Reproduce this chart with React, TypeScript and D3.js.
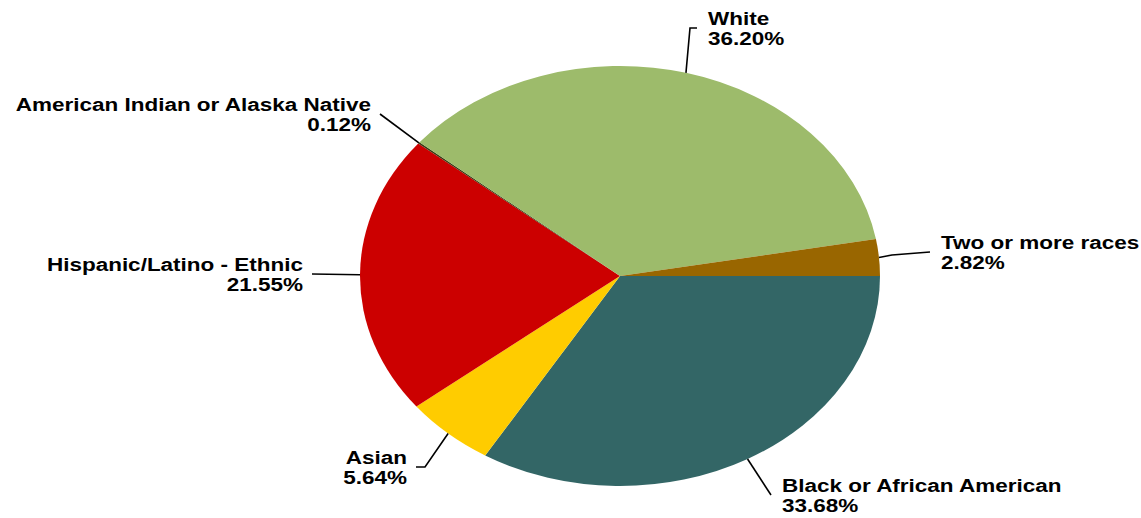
import React from "react";
import * as d3 from "d3";

const categories = [
  "Black or African American",
  "Asian",
  "Hispanic/Latino - Ethnic",
  "American Indian or Alaska Native",
  "White",
  "Two or more races",
];
const values = [33.68, 5.64, 21.55, 0.12, 36.2, 2.82];
const valueLabels = ["33.68%", "5.64%", "21.55%", "0.12%", "36.20%", "2.82%"];
const colors = ["#336666", "#FFCC00", "#CC0000", "#3a3a10", "#9DBB6B", "#996600"];

// leader line layout: points after the anchor on the pie edge, and label side
const leaderPoints: [number, number][][] = [
  [[771, 495]],
  [[425, 467], [416, 467]],
  [[312, 274]],
  [[380, 114]],
  [[690, 28], [697, 28]],
  [[892, 255], [930, 252]],
];
const labelSide = ["right", "left", "left", "left", "right", "right"];

const W = 1141;
const H = 518;
const cx = 620;
const cy = 276;
const rx = 260;
const ry = 210;
const sx = rx / ry;

export default function App() {
  const pie = d3
    .pie<number>()
    .sort(null)
    .value((d) => d)
    .startAngle(Math.PI / 2)
    .endAngle(Math.PI / 2 + 2 * Math.PI);
  const arcs = pie(values);
  const arc = d3.arc<d3.PieArcDatum<number>>().innerRadius(0).outerRadius(ry);
  const line = d3.line();

  return (
    <svg
      width={W}
      height={H}
      style={{ position: "absolute", left: 0, top: 0, background: "#fff" }}
      fontFamily="'Liberation Sans', Arial, sans-serif"
    >
      <g transform={`translate(${cx},${cy}) scale(${sx},1)`}>
        {arcs.map((a, i) => (
          <path key={i} d={arc(a) || ""} fill={colors[i]} />
        ))}
      </g>
      {arcs.map((a, i) => {
        const mid = (a.startAngle + a.endAngle) / 2;
        const ax = cx + rx * Math.sin(mid);
        const ay = cy - ry * Math.cos(mid);
        const pts: [number, number][] = [[ax, ay], ...leaderPoints[i]];
        const end = pts[pts.length - 1];
        const left = labelSide[i] === "left";
        const tx = left ? end[0] - 9 : end[0] + 11;
        const ty = end[1] - 3;
        return (
          <g key={"l" + i}>
            <path d={line(pts) || ""} fill="none" stroke="#000" strokeWidth={1.6} />
            <text
              transform={`translate(${tx},${ty}) scale(1.25,1)`}
              textAnchor={left ? "end" : "start"}
              fontSize={18}
              fontWeight="bold"
              fill="#000"
            >
              <tspan x={0} y={0}>{categories[i]}</tspan>
              <tspan x={0} y={20}>{valueLabels[i]}</tspan>
            </text>
          </g>
        );
      })}
    </svg>
  );
}
